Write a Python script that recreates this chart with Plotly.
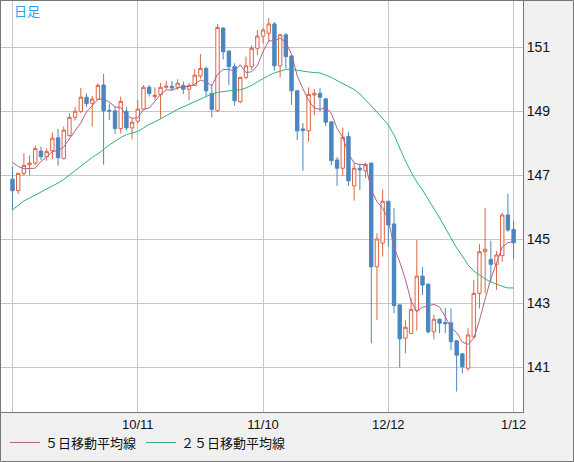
import plotly.graph_objects as go

# ---- data (USD/JPY daily) ----
opens = [146.88,146.52,147.06,147.33,147.38,147.76,147.58,147.77,148.17,147.52,
         148.24,148.81,148.99,149.44,149.25,149.38,149.82,149.03,149.01,148.46,
         149.00,148.48,148.69,149.07,149.75,149.46,149.52,149.75,149.78,149.75,
         149.81,149.69,149.81,150.10,150.34,149.56,149.02,151.60,150.88,150.40,
         149.30,150.06,150.39,150.97,151.35,151.44,151.73,150.42,151.39,150.73,
         149.64,148.45,148.39,149.51,149.56,149.39,148.67,147.48,147.22,148.21,
         146.67,147.22,147.14,147.38,144.14,144.88,146.19,145.48,142.95,141.91,
         142.06,142.77,143.85,143.60,142.11,142.50,142.40,142.39,141.83,141.42,
         140.97,141.95,143.31,144.61,144.37,144.22,144.49,145.76,145.31]
highs = [147.27,147.08,147.69,147.62,147.93,147.89,147.84,148.34,148.45,148.52,
         148.94,149.14,149.73,149.56,149.48,149.88,150.17,149.25,149.14,149.46,
         149.14,148.78,149.35,149.82,149.82,149.75,149.89,149.95,149.95,150.00,
         149.93,149.88,150.32,150.79,150.39,149.85,151.73,151.63,150.92,150.50,
         150.08,150.71,151.06,151.54,151.60,151.91,151.79,151.42,151.44,150.76,
         149.66,148.63,149.75,149.70,149.72,149.40,148.68,147.57,148.49,148.36,
         147.39,147.37,147.39,147.40,145.19,146.56,146.20,145.97,142.96,142.48,
         143.16,144.98,144.13,143.61,142.64,142.53,142.86,142.84,141.85,141.44,
         142.22,143.73,144.85,145.97,144.95,144.63,145.83,146.42,145.58]
lows = [145.92,146.42,146.98,147.00,147.32,147.48,147.46,147.50,147.30,147.50,
        148.21,148.71,148.94,149.14,148.52,149.35,147.33,148.73,148.29,148.31,
        148.39,148.13,148.62,149.04,149.46,149.35,148.78,149.69,149.64,149.67,
        149.54,149.35,149.79,150.03,149.46,148.81,148.99,150.62,149.82,149.17,
        149.25,150.00,150.29,150.76,151.13,151.18,150.27,150.06,150.34,149.20,
        148.10,147.14,148.05,148.88,149.00,148.54,147.32,146.67,146.98,146.67,
        146.21,146.54,146.91,141.75,142.48,144.46,144.77,142.69,140.99,141.44,
        142.05,142.15,143.26,142.06,141.87,142.06,142.07,141.54,140.24,140.81,
        140.89,141.90,142.84,143.31,143.67,143.42,144.30,145.24,144.38]
closes = [146.52,147.06,147.31,147.38,147.84,147.58,147.74,148.16,147.55,148.41,
          148.81,149.00,149.44,149.24,149.38,149.81,149.02,149.01,148.46,149.31,
          148.48,148.66,149.07,149.75,149.56,149.50,149.75,149.78,149.73,149.88,
          149.69,149.81,150.13,150.34,149.64,149.06,151.62,150.86,150.39,149.33,
          150.06,150.42,150.97,151.35,151.54,151.73,150.42,151.39,150.71,149.64,
          148.39,148.40,149.53,149.56,149.44,148.66,147.46,147.22,148.19,146.83,
          147.22,147.17,147.34,144.14,145.01,146.19,145.45,142.93,141.89,142.25,
          142.81,143.85,143.57,142.11,142.50,142.38,142.36,141.80,141.38,141.02,
          142.01,143.31,144.61,144.69,144.22,144.51,145.76,145.29,144.89]
# closes of the 4 days before the first bar (needed for the 5-day average)
prior_closes = [147.70, 147.67, 147.30, 147.83]
ma25 = [145.92,146.06,146.20,146.29,146.38,146.49,146.57,146.65,146.76,146.87,
        147.01,147.15,147.28,147.42,147.56,147.67,147.81,147.95,148.06,148.18,
        148.27,148.31,148.37,148.48,148.59,148.67,148.76,148.85,148.96,149.06,
        149.14,149.23,149.31,149.40,149.46,149.54,149.59,149.62,149.64,149.65,
        149.67,149.73,149.81,149.92,150.03,150.12,150.20,150.26,150.31,150.31,
        150.28,150.24,150.23,150.21,150.20,150.13,150.06,149.96,149.87,149.79,
        149.68,149.54,149.37,149.17,148.98,148.79,148.57,148.26,147.85,147.45,
        147.10,146.79,146.54,146.26,145.95,145.67,145.35,145.04,144.73,144.48,
        144.20,144.01,143.87,143.76,143.67,143.59,143.53,143.48,143.48]

tick_index = [0, 22, 44, 66, 88]
tick_labels = ["", "10/11", "11/10", "12/12", "1/12"]
price_ticks = [141, 143, 145, 147, 149, 151]

# ---- derived ----
x = list(range(len(closes)))
allc = prior_closes + closes
ma5 = [sum(allc[i:i + 5]) / 5 for i in range(len(closes))]

UP = "#dc6444"
DOWN = "#4a86c0"
MA5C = "#b35f8c"
MA25C = "#2db37b"

fig = go.Figure()
fig.add_trace(go.Candlestick(
    x=x, open=opens, high=highs, low=lows, close=closes,
    increasing=dict(line=dict(color=UP, width=1), fillcolor="white"),
    decreasing=dict(line=dict(color=DOWN, width=1), fillcolor=DOWN),
    whiskerwidth=0, showlegend=False, hoverinfo="skip"))
fig.add_trace(go.Scatter(x=x, y=ma5, mode="lines", name="５日移動平均線",
                         line=dict(color=MA5C, width=1), hoverinfo="skip"))
fig.add_trace(go.Scatter(x=x, y=ma25, mode="lines", name="２５日移動平均線",
                         line=dict(color=MA25C, width=1), hoverinfo="skip"))

W, H = 574, 462
L, R, T, B = 1, 51, 1, 50
pw, ph = W - L - R, H - T - B

def px_x(p):
    return (p - L) / pw

def px_y(p):
    return (H - B - p) / ph

fig.update_layout(
    width=W, height=H,
    margin=dict(l=L, r=R, t=T, b=B, autoexpand=False),
    paper_bgcolor="#f0f0f0", plot_bgcolor="white",
    boxgap=0.15,
    font=dict(family="Liberation Sans", size=14, color="#111"),
    xaxis=dict(range=[-2.02, 89.65], tickvals=tick_index, ticktext=tick_labels,
               showgrid=True, gridcolor="#c8c8c8", gridwidth=1,
               showline=True, linecolor="#777", linewidth=1, mirror=True,
               ticks="", zeroline=False, rangeslider=dict(visible=False),
               automargin=False, fixedrange=True,
               tickfont=dict(family="Liberation Sans", size=13, color="#111")),
    yaxis=dict(range=[139.603, 152.447], tickvals=price_ticks,
               ticktext=[str(v) for v in price_ticks], side="right",
               showgrid=True, gridcolor="#c8c8c8", gridwidth=1,
               showline=True, linecolor="#777", linewidth=1, mirror=True,
               ticks="", zeroline=False, automargin=False, fixedrange=True,
               tickfont=dict(family="Liberation Sans", size=14, color="#111")),
    legend=dict(orientation="h", x=px_x(5), xanchor="left",
                y=px_y(442.5), yanchor="middle", bgcolor="rgba(0,0,0,0)",
                font=dict(family="Noto Sans CJK JP", size=13, color="#111"),
                itemclick=False, itemdoubleclick=False),
    annotations=[dict(text="日足", xref="paper", yref="paper",
                      x=px_x(12), y=px_y(11), xanchor="left", yanchor="middle",
                      showarrow=False,
                      font=dict(family="Noto Sans CJK JP", size=13, color="#2aa6e0"))],
    shapes=[dict(type="rect", xref="paper", yref="paper",
                 x0=px_x(0.5), x1=px_x(573.5), y0=px_y(461.5), y1=px_y(0.5),
                 line=dict(color="#777", width=1), layer="above")],
)

fig.write_html("out.html", config={"displayModeBar": False},
               post_script="document.body.style.margin='0';document.body.style.padding='0';")
